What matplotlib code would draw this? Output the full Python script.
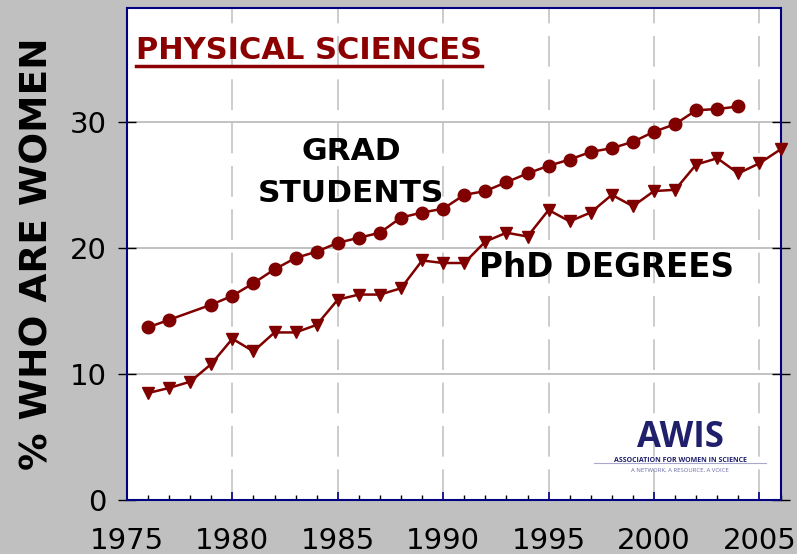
import matplotlib

matplotlib.use("Agg")
import matplotlib.pyplot as plt
from matplotlib.lines import Line2D
from matplotlib.ticker import MultipleLocator
from matplotlib.transforms import IdentityTransform

# percent of women, physical sciences
grad_years = [1976, 1977, 1979, 1980, 1981, 1982, 1983, 1984, 1985, 1986,
              1987, 1988, 1989, 1990, 1991, 1992, 1993, 1994, 1995, 1996,
              1997, 1998, 1999, 2000, 2001, 2002, 2003, 2004]
grad_pct = [13.7, 14.3, 15.5, 16.2, 17.2, 18.3, 19.2, 19.7, 20.4, 20.8,
            21.2, 22.4, 22.8, 23.1, 24.2, 24.5, 25.2, 25.9, 26.5, 27.0,
            27.6, 27.9, 28.4, 29.2, 29.8, 30.9, 31.0, 31.2]

phd_years = list(range(1976, 2007))
phd_pct = [8.5, 8.9, 9.4, 10.8, 12.8, 11.8, 13.3, 13.3, 13.9, 15.9,
           16.3, 16.3, 16.8, 19.0, 18.8, 18.8, 20.5, 21.2, 20.9, 23.0,
           22.1, 22.8, 24.2, 23.3, 24.5, 24.6, 26.6, 27.1, 25.9, 26.7,
           27.8]

x_ticks = [1975, 1980, 1985, 1990, 1995, 2000, 2005]
y_ticks = [0, 10, 20, 30]

MAROON = "#800000"
NAVY = "#000080"
BG = "#c0c0c0"

fig = plt.figure(figsize=(7.97, 5.54), dpi=100, facecolor=BG)
ax = fig.add_axes([0.1593, 0.0969, 0.8200, 0.8886])
ax.set_facecolor("white")

ax.set_xlim(1975, 2006)
ax.set_ylim(0, 39)

# grid: solid horizontal, dashed vertical
ax.set_yticks(y_ticks)
ax.set_xticks(x_ticks)
ax.xaxis.set_minor_locator(MultipleLocator(1))
ax.yaxis.grid(True, color="#b8b8b8", lw=1.2, ls="-")
ax.xaxis.grid(True, color="#c8c8c8", lw=1.3, ls=(0, (17, 7)))
ax.set_axisbelow(True)

for s in ax.spines.values():
    s.set_color(NAVY)
    s.set_linewidth(1.5)

ax.tick_params(axis="y", which="major", direction="inout", length=13,
               width=1, color="black", left=True, right=True,
               labelsize=21, pad=8)
ax.tick_params(axis="x", which="major", direction="in", length=6,
               width=1.2, color=NAVY, labelsize=21, pad=19)
ax.tick_params(axis="x", which="minor", direction="in", length=3.5,
               width=1, color="black")

ax.set_ylabel("% WHO ARE WOMEN", fontsize=27, fontweight="bold",
              labelpad=10)

ax.plot(grad_years, grad_pct, color=MAROON, lw=1.8, marker="o", ms=9,
        clip_on=False, zorder=5)
ax.plot(phd_years, phd_pct, color=MAROON, lw=1.8, marker="v", ms=8.5,
        clip_on=False, zorder=5)

# labels
title = ax.text(1975.43, 34.94, "PHYSICAL SCIENCES", fontsize=22,
                fontweight="bold", color="#8b0000", ha="left", va="baseline")
ax.text(1985.63, 27.0, "GRAD", fontsize=22.5, fontweight="bold",
        ha="center", va="baseline")
ax.text(1985.63, 23.67, "STUDENTS", fontsize=22.5, fontweight="bold",
        ha="center", va="baseline")
ax.text(1991.7, 17.72, "PhD DEGREES", fontsize=23.5, fontweight="bold",
        ha="left", va="baseline")

# AWIS logo
logo_x = 2001.25
ax.text(logo_x, 4.25, "AWIS", fontsize=25, fontweight="bold",
        family=["Open Sans", "DejaVu Sans"], color="#1f1f6b",
        ha="center", va="baseline")
ax.text(logo_x, 3.05, "ASSOCIATION FOR WOMEN IN SCIENCE", fontsize=5,
        fontweight="bold", family=["Open Sans", "DejaVu Sans"],
        color="#1f1f6b", ha="center", va="baseline")
ax.plot([1997.15, 2005.3], [2.93, 2.93], color="#a8a8cc", lw=0.8)
ax.text(logo_x, 2.3, "A NETWORK, A RESOURCE, A VOICE", fontsize=4.3,
        family=["Open Sans", "DejaVu Sans"], color="#6a6aa8",
        ha="center", va="baseline")

# underline the title under its rendered extent
fig.canvas.draw()
bb = title.get_window_extent()
base_y = ax.transData.transform((1975.43, 34.94))[1]
fig.add_artist(Line2D([bb.x0, bb.x1], [base_y - 7, base_y - 7], lw=2.5,
                      color="#8b0000", transform=IdentityTransform()))

fig.savefig("out.png", dpi=100, facecolor=BG)
